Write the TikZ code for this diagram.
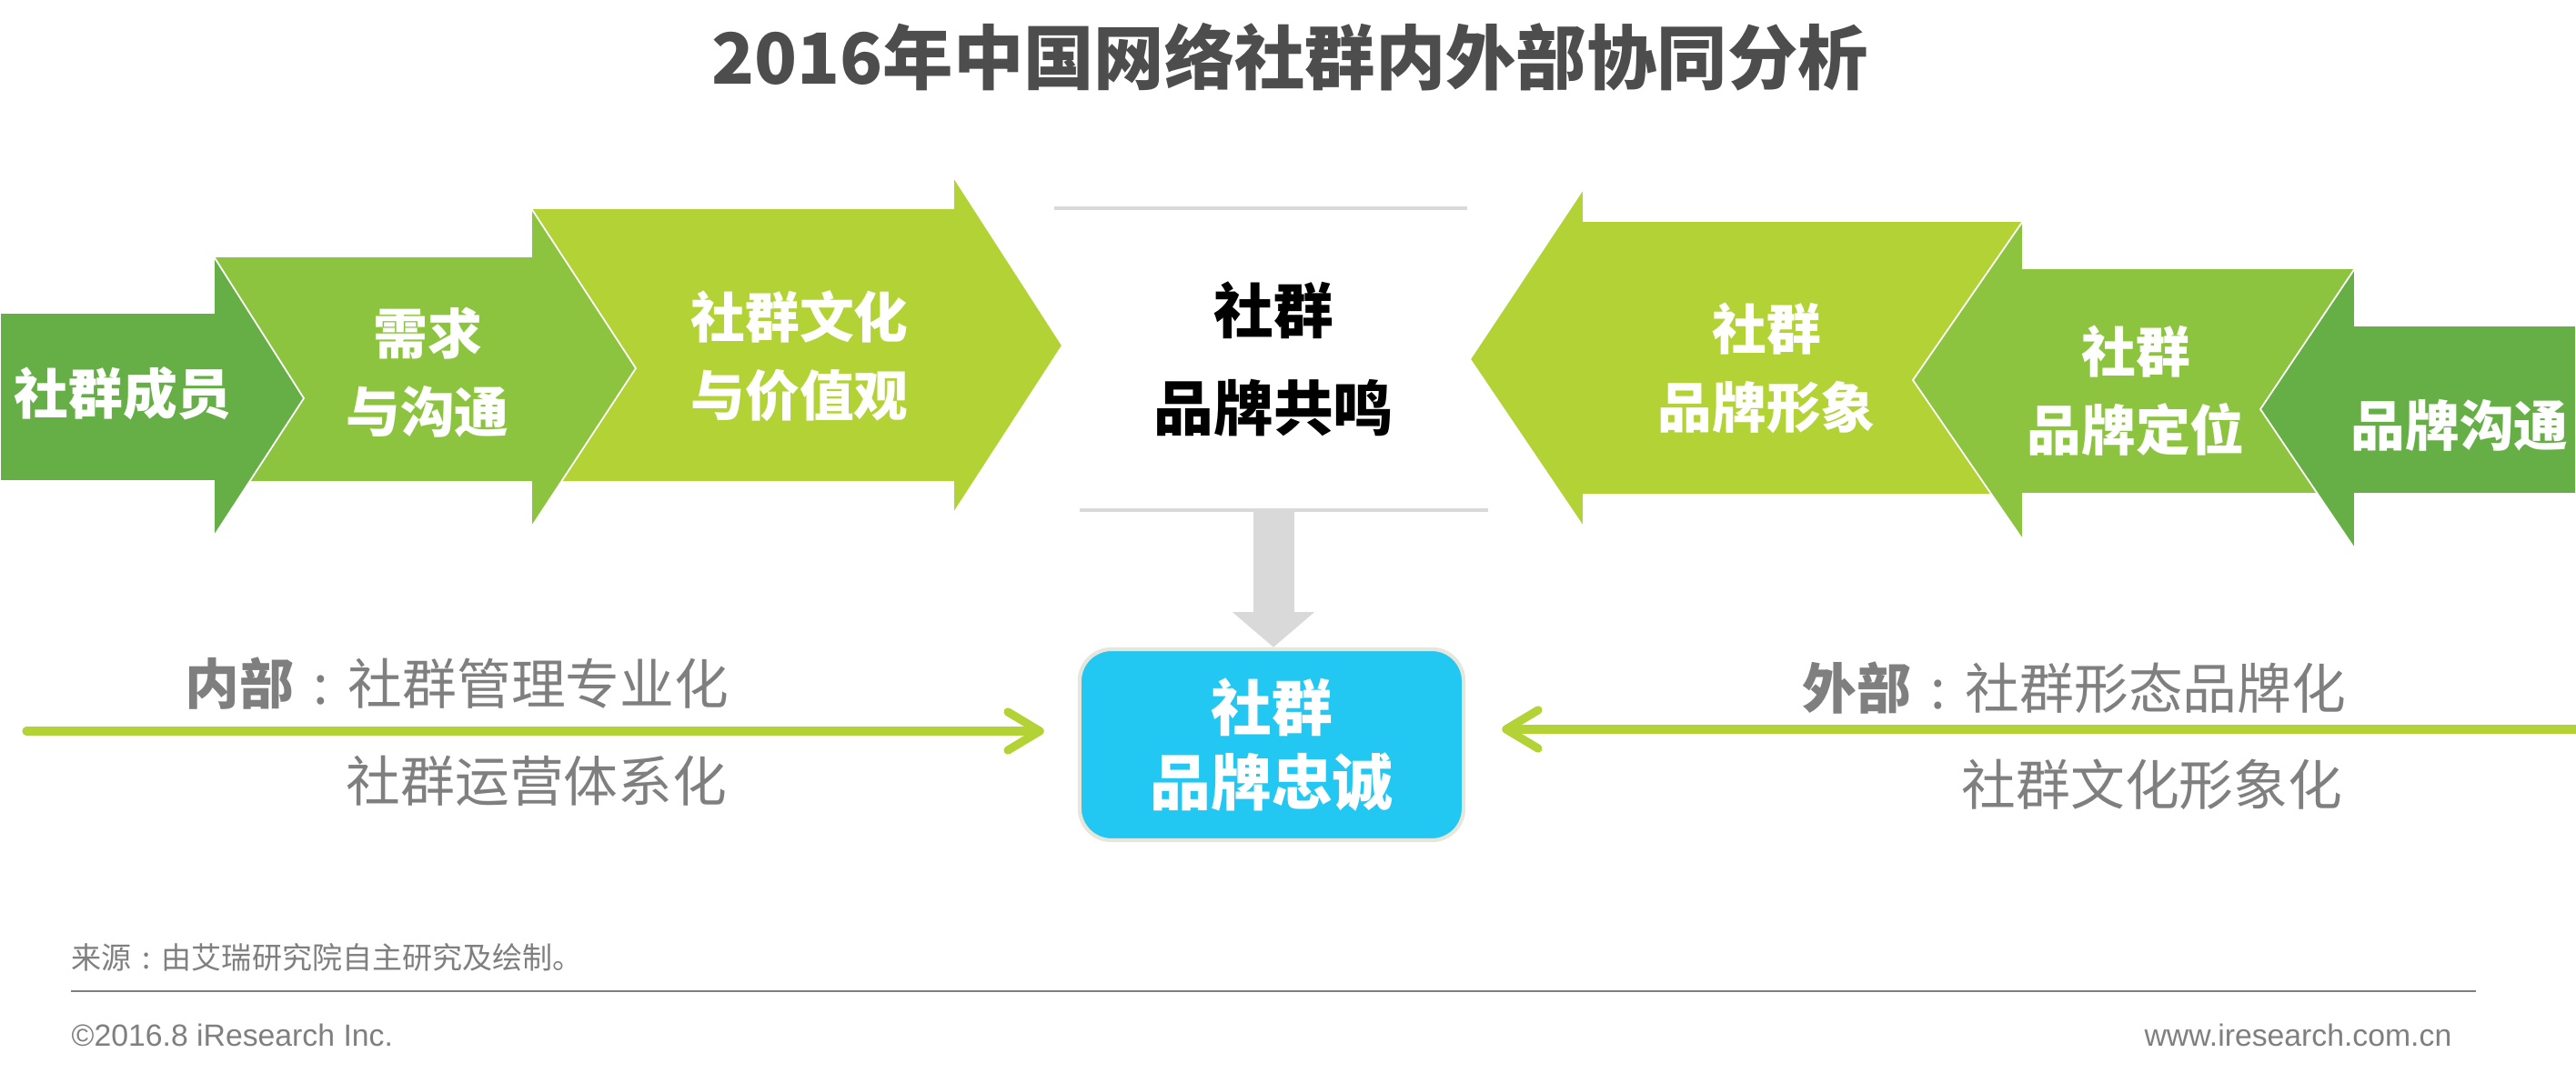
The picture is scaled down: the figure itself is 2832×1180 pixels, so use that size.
\documentclass[tikz,border=0pt]{standalone}
\usepackage{fontspec}
\setmainfont{Liberation Sans}
\newfontfamily\cjk{Noto Sans CJK SC}
\usepackage{tikz}
\usetikzlibrary{arrows.meta, positioning, calc}

\definecolor{irdark}{HTML}{66AF46}
\definecolor{irmid}{HTML}{8CC43F}
\definecolor{irlime}{HTML}{B2D235}
\definecolor{irblue}{HTML}{22C8F2}
\definecolor{irgray}{HTML}{7F7F7F}
\definecolor{irtitle}{HTML}{4D4D4D}
\definecolor{irline}{HTML}{D9D9D9}
\definecolor{irrim}{HTML}{E6E6DC}

\newcommand{\midcolon}{\makebox[1em][c]{:}}

\begin{document}
\begin{tikzpicture}[x=0.01cm, y=-0.01cm,
  chev/.style={draw=white, line width=0.5pt},
  arrowtxt/.style={font=\cjk\bfseries\fontsize{17}{24.5}\selectfont, text=white, align=center, inner sep=0pt},
  sidetxt/.style={font=\cjk\fontsize{17}{20}\selectfont, text=irgray, inner sep=0pt, anchor=east},
  flowline/.style={irlime, line width=2.6pt, line cap=round, -{Straight Barb[length=10pt, width=12pt, round]}},
  foot/.style={font=\fontsize{9.6}{11}\selectfont, text=irgray, inner sep=0pt}
]
\useasboundingbox (0,0) rectangle (2832,1180);

% Title
\node[font=\cjk\bfseries\fontsize{22}{26}\selectfont, text=irtitle] (title) at (1418, 63) {2016年中国网络社群内外部协同分析};

% Inner chain (left, pointing right)
\fill[irlime, chev] (584,229) -- (1048,229) -- (1048,194) -- (1168,380) -- (1048,565) -- (1048,530) -- (584,530) -- cycle;
\fill[irmid, chev] (235,282) -- (584,282) -- (584,229) -- (699,405) -- (584,580) -- (584,530) -- (235,530) -- cycle;
\fill[irdark, chev] (0,344) -- (235,344) -- (235,282) -- (334,438) -- (235,590) -- (235,529) -- (0,529) -- cycle;

\node[arrowtxt] (member) at (135, 433) {社群成员};
\node[arrowtxt] (demand) at (470, 410) {需求\\与沟通};
\node[arrowtxt] (culture) at (879, 392) {社群文化\\与价值观};

% Outer chain (right, pointing left)
\fill[irlime, chev] (1616,395) -- (1741,207) -- (1741,243) -- (2224,243) -- (2224,544) -- (1741,544) -- (1741,580) -- cycle;
\fill[irmid, chev] (2103,418) -- (2224,243) -- (2224,295) -- (2589,295) -- (2589,543) -- (2224,543) -- (2224,594) -- cycle;
\fill[irdark, chev] (2485,450) -- (2589,295) -- (2589,358) -- (2832,358) -- (2832,543) -- (2589,543) -- (2589,604) -- cycle;

\node[arrowtxt] (image) at (1942, 405) {社群\\品牌形象};
\node[arrowtxt] (position) at (2348, 430) {社群\\品牌定位};
\node[arrowtxt] (comm) at (2704, 468) {品牌沟通};

% Resonance in the middle
\node[font=\cjk\bfseries\fontsize{18.7}{30.4}\selectfont, align=center, minimum height=3.32cm, inner sep=0pt] (reso) at (1400, 395) {社群\\品牌共鸣};
\draw[irline, line width=1pt] (1159,229) -- (1613,229);
\draw[irline, line width=1pt] (1187,561) -- (1636,561);

% Loyalty box
\node[fill=irblue, draw=irrim, line width=1.2pt, rounded corners=0.35cm, minimum width=4.22cm, minimum height=2.1cm,
  font=\cjk\bfseries\fontsize{19}{23.3}\selectfont, text=white, align=center] (loyal) at (1398, 819) {社群\\品牌忠诚};

\draw[irline, line width=12.8pt, -{Triangle[length=11pt, width=25pt]}] (reso.south) -- (reso.south |- loyal.north);

% Inner / outer flows
\coordinate (inend) at (29, 804);
\coordinate (outend) at (2832, 802);
\draw[flowline, shorten >=0.37cm] (inend) -- (inend -| loyal.west);
\draw[flowline, shorten >=0.40cm] (outend) -- (outend -| loyal.east);

\node[sidetxt] (inlbl1) at (802, 752) {\bfseries 内部\mdseries\midcolon 社群管理专业化};
\node[sidetxt] (inlbl2) at (800, 859) {社群运营体系化};
\node[sidetxt] (outlbl1) at (2580, 757) {\bfseries 外部\mdseries\midcolon 社群形态品牌化};
\node[sidetxt] (outlbl2) at (2576, 863) {社群文化形象化};

% Footer
\node[foot, font=\cjk\fontsize{9.4}{11}\selectfont, anchor=west] (source) at (78, 1053) {来源\midcolon 由艾瑞研究院自主研究及绘制。};
\draw[irgray, line width=0.6pt] (78,1090) -- (2722,1090);
\node[foot, anchor=west] (copy) at (78, 1138) {©2016.8 iResearch Inc.};
\node[foot, anchor=east] (web) at (2696, 1138) {www.iresearch.com.cn};

\end{tikzpicture}
\end{document}
